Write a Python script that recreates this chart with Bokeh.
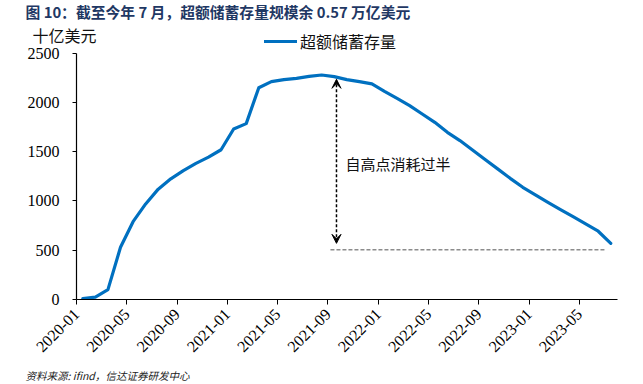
import numpy as np
from bokeh.plotting import figure
from bokeh.models import (ColumnDataSource, FixedTicker, Label, Arrow, VeeHead,
                          Legend, LegendItem)
from bokeh.embed import file_html
from bokeh.resources import INLINE

# ---- data ----
months = [
    "2020-01", "2020-02", "2020-03", "2020-04", "2020-05", "2020-06", "2020-07", "2020-08",
    "2020-09", "2020-10", "2020-11", "2020-12", "2021-01", "2021-02", "2021-03", "2021-04",
    "2021-05", "2021-06", "2021-07", "2021-08", "2021-09", "2021-10", "2021-11", "2021-12",
    "2022-01", "2022-02", "2022-03", "2022-04", "2022-05", "2022-06", "2022-07", "2022-08",
    "2022-09", "2022-10", "2022-11", "2022-12", "2023-01", "2023-02", "2023-03", "2023-04",
    "2023-05", "2023-06", "2023-07",
]
excess_savings = [
    10, 25, 100, 530, 790, 970, 1120, 1225, 1308, 1382, 1445, 1520,
    1731, 1785, 2150, 2212, 2232, 2245, 2265, 2279, 2262, 2232, 2211, 2188,
    2113, 2042, 1968, 1883, 1798, 1697, 1613, 1518, 1420, 1326, 1230, 1139,
    1062, 987, 913, 842, 768, 693, 570,
]
tick_labels = ["2020-01", "2020-05", "2020-09", "2021-01", "2021-05", "2021-09",
               "2022-01", "2022-05", "2022-09", "2023-01", "2023-05"]
y_ticks = [0, 500, 1000, 1500, 2000, 2500]
current_level = 505
peak_value = 2235
now_value = 570

title_text = "图 10：截至今年 7 月，超额储蓄存量规模余 0.57 万亿美元"
unit_text = "十亿美元"
series_name = "超额储蓄存量"
note_text = "自高点消耗过半"
source_text = "资料来源: ifind，信达证券研发中心"

# ---- positions ----
x_idx = np.arange(len(months)) + 0.5
tick_pos = [months.index(t) for t in tick_labels]
X_MAX = len(months) + 0.05

CJK = "Noto Sans CJK SC"
SERIF = "Liberation Serif"

# frame covers the whole canvas; axes are pinned at x=0 / y=0
p = figure(width=627, height=382, output_backend="svg", toolbar_location=None,
           x_range=(-6.046, 43.83), y_range=(-842.5, 3035),
           min_border=0)
p.outline_line_color = None
p.xgrid.visible = False
p.ygrid.visible = False

src = ColumnDataSource(dict(x=x_idx, y=excess_savings))
r = p.line("x", "y", source=src, line_color="#0070C0", line_width=3.2,
           line_join="round", line_cap="round")

# axes
p.xaxis.fixed_location = 0
p.yaxis.fixed_location = 0
p.xaxis.bounds = (0, X_MAX)
p.yaxis.bounds = (0, 2500)
p.xaxis.ticker = FixedTicker(ticks=tick_pos)
p.xaxis.major_label_overrides = {pos: lab for pos, lab in zip(tick_pos, tick_labels)}
p.xaxis.major_label_orientation = np.pi / 4
p.xaxis.minor_tick_line_color = None
p.xaxis.major_tick_in = 0
p.xaxis.major_tick_out = 5
p.xaxis.major_label_standoff = 7
p.yaxis.ticker = FixedTicker(ticks=y_ticks)
p.yaxis.minor_tick_line_color = None
p.yaxis.major_tick_in = 0
p.yaxis.major_tick_out = 4
p.yaxis.major_label_standoff = 13
for ax in (p.xaxis, p.yaxis):
    ax.axis_line_color = "black"
    ax.axis_line_width = 1.2
    ax.major_tick_line_color = "black"
    ax.major_label_text_font = SERIF
    ax.major_label_text_font_size = "16px"
    ax.major_label_text_color = "black"

# dashed level line
p.line(x=[20.2, 42.0], y=[current_level, current_level], line_color="#8c8c8c",
       line_dash="4 2", line_width=1.5)

# double-headed dashed arrow
p.add_layout(Arrow(x_start=20.68, y_start=peak_value, x_end=20.68, y_end=now_value,
                   line_color="black", line_width=1.5, line_dash="3 2",
                   start=VeeHead(size=9, fill_color="black", line_color="black"),
                   end=VeeHead(size=9, fill_color="black", line_color="black")))

p.add_layout(Label(x=21.4, y=1379, text=note_text, text_font=CJK,
                   text_font_size="15px", text_color="#111111",
                   text_align="left", text_baseline="middle"))

# title / unit / source
p.add_layout(Label(x=0, y=2500, x_offset=-51, y_offset=41.5, text=title_text,
                   text_font=CJK, text_font_size="14.8px", text_font_style="bold",
                   text_color="#1F3864", text_align="left", text_baseline="middle"))
p.add_layout(Label(x=0, y=2500, x_offset=-44, y_offset=18, text=unit_text,
                   text_font=CJK, text_font_size="16px", text_color="#111111",
                   text_align="left", text_baseline="middle"))
p.add_layout(Label(x=0, y=0, x_offset=-51, y_offset=-76, text=source_text,
                   text_font=CJK, text_font_size="10.5px", text_font_style="italic",
                   text_color="#222222", text_align="left", text_baseline="middle"))

# legend: location measured from frame's bottom-left corner
legend = Legend(items=[LegendItem(label=series_name, renderers=[r])],
                location=(264, 329), orientation="horizontal",
                border_line_color=None, background_fill_alpha=0,
                padding=0, margin=0, spacing=0,
                glyph_width=33, glyph_height=20, label_standoff=3,
                label_text_font=CJK, label_text_font_size="16px",
                label_text_color="#111111")
p.add_layout(legend, "center")

open("out.html", "w").write(file_html(p, INLINE))
